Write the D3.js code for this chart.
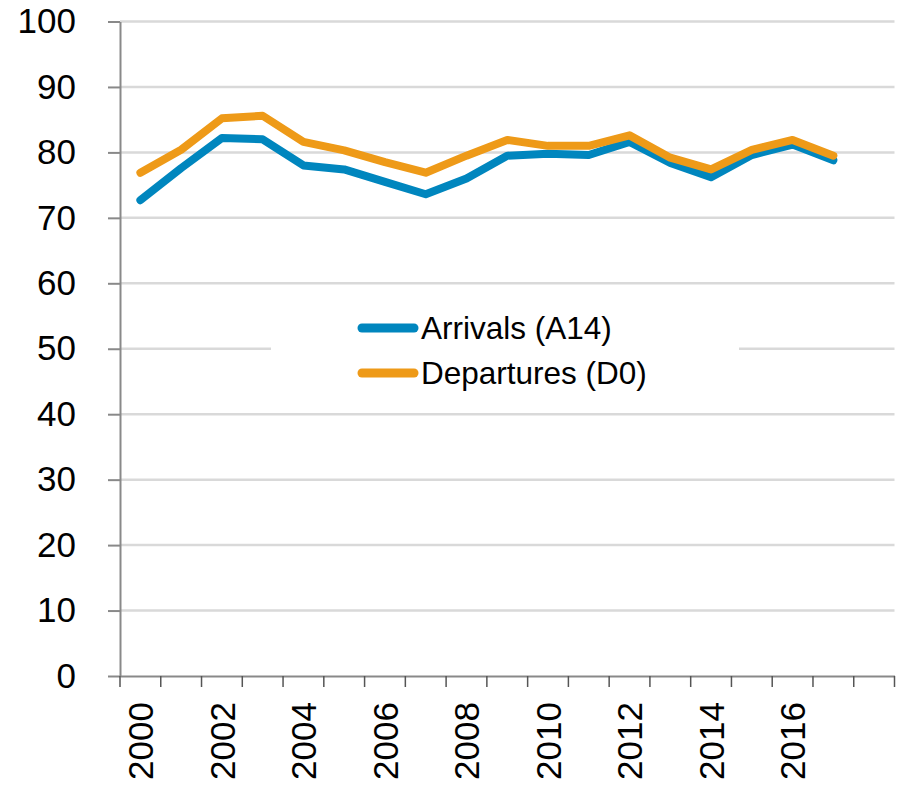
<!DOCTYPE html>
<html>
<head>
<meta charset="utf-8">
<script src="https://cdn.jsdelivr.net/npm/d3@7"></script>
<style>
  html, body { margin: 0; padding: 0; background: #fff; }
  svg { display: block; font-family: "Liberation Sans", Arial, sans-serif; }
</style>
</head>
<body>
<svg id="chart" width="902" height="786"></svg>
<script>
const years = [2000, 2001, 2002, 2003, 2004, 2005, 2006, 2007, 2008, 2009, 2010, 2011, 2012, 2013, 2014, 2015, 2016, 2017, 2018];
const xTickLabels = [2000, 2002, 2004, 2006, 2008, 2010, 2012, 2014, 2016];
const yTicks = [0, 10, 20, 30, 40, 50, 60, 70, 80, 90, 100];
const arrivals = [72.7, 77.6, 82.2, 82.0, 78.0, 77.4, 75.5, 73.6, 76.0, 79.5, 79.8, 79.6, 81.6, 78.4, 76.2, 79.6, 81.2, 78.8];
const departures = [76.9, 80.4, 85.2, 85.6, 81.6, 80.3, 78.5, 76.9, 79.5, 81.9, 81.0, 81.0, 82.6, 79.2, 77.4, 80.4, 81.9, 79.5];
const seriesNames = ["Arrivals (A14)", "Departures (D0)"];
const colors = ["#0086BE", "#EE9A18"];

const svg = d3.select("#chart");
const mLeft = 120, mRight = 894.5, mTop = 21.5, mBottom = 676;

const x = d3.scaleBand().domain(years).range([mLeft, mRight]).padding(0);
const y = d3.scaleLinear().domain([0, 100]).range([mBottom, mTop]);
const cx = d => x(d) + x.bandwidth() / 2;

// gridlines
svg.append("g").selectAll("line")
  .data(yTicks.filter(d => d > 0))
  .join("line")
  .attr("x1", mLeft).attr("x2", mRight)
  .attr("y1", d => y(d)).attr("y2", d => y(d))
  .attr("stroke", "#d9d9d9").attr("stroke-width", 2.5);

// legend background (hides gridline)
const legend = svg.append("g");
legend.append("rect")
  .attr("x", 271).attr("y", 302).attr("width", 468).attr("height", 96)
  .attr("fill", "#fff");

// y axis
const yAxis = svg.append("g")
  .attr("transform", `translate(${mLeft},0)`)
  .call(d3.axisLeft(y).tickValues(yTicks).tickSize(12).tickSizeOuter(0).tickPadding(32));
yAxis.select(".domain").attr("stroke", "#898989").attr("stroke-width", 2);
yAxis.selectAll(".tick line").attr("stroke", "#898989").attr("stroke-width", 2);
yAxis.selectAll(".tick text").attr("font-size", 35).attr("fill", "#000")
  .style("font-family", "'Liberation Sans', Arial, sans-serif");

// x axis
const xAxis = svg.append("g")
  .attr("transform", `translate(0,${mBottom})`)
  .call(d3.axisBottom(x).tickValues(xTickLabels).tickSize(0).tickSizeOuter(0));
xAxis.select(".domain").attr("stroke", "#898989").attr("stroke-width", 2);
xAxis.selectAll(".tick text")
  .attr("font-size", 35).attr("fill", "#000")
  .style("font-family", "'Liberation Sans', Arial, sans-serif")
  .attr("transform", "rotate(-90)")
  .attr("x", -26).attr("y", 0).attr("dy", "0.36em")
  .style("text-anchor", "end");

// boundary ticks
const bounds = years.map(d => x(d)).concat([x.range()[1]]);
svg.append("g").selectAll("line")
  .data(bounds)
  .join("line")
  .attr("x1", d => d).attr("x2", d => d)
  .attr("y1", mBottom).attr("y2", mBottom + 11)
  .attr("stroke", "#555").attr("stroke-width", 1.5);

// lines
const line = d3.line().x((d, i) => cx(years[i])).y(d => y(d));
[arrivals, departures].forEach((s, k) => {
  svg.append("path")
    .datum(s)
    .attr("d", line)
    .attr("fill", "none")
    .attr("stroke", colors[k])
    .attr("stroke-width", 8)
    .attr("stroke-linejoin", "round")
    .attr("stroke-linecap", "round");
});

// legend items
seriesNames.forEach((name, k) => {
  const ly = 328 + k * 45;
  legend.append("line")
    .attr("x1", 362).attr("x2", 414).attr("y1", ly).attr("y2", ly)
    .attr("stroke", colors[k]).attr("stroke-width", 9).attr("stroke-linecap", "round");
  legend.append("text")
    .attr("x", 421).attr("y", ly).attr("dy", "0.36em")
    .attr("font-size", 31.5).attr("fill", "#000")
    .text(name);
});
</script>
</body>
</html>
